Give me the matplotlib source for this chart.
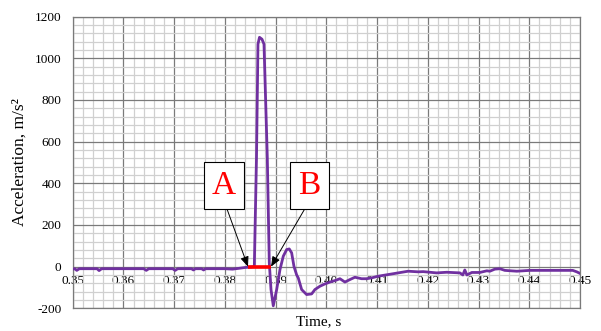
import matplotlib
matplotlib.use("Agg")
import matplotlib.pyplot as plt
from matplotlib.ticker import MultipleLocator

plt.rcParams["axes.unicode_minus"] = False
plt.rcParams["font.family"] = ["Liberation Serif", "DejaVu Serif"]

# acceleration trace (time s, acceleration m/s^2)
time = [0.3500, 0.3504, 0.3508, 0.3513, 0.3548, 0.3552, 0.3557, 0.3640, 0.3645,
        0.3650, 0.3697, 0.3702, 0.3707, 0.3734, 0.3738, 0.3742, 0.3754, 0.3758,
        0.3762, 0.3800, 0.3815, 0.3828, 0.3840, 0.3852, 0.3858,
        0.38623, 0.38652, 0.38682, 0.38731, 0.38771, 0.38836, 0.38875, 0.38909,
        0.38954, 0.39021, 0.39086, 0.39151, 0.39218, 0.39269, 0.39316, 0.39362,
        0.39415, 0.39446, 0.39513, 0.39611, 0.39710, 0.39775, 0.39874, 0.39972,
        0.40071, 0.40169, 0.40268, 0.40366, 0.40465, 0.40563, 0.40695, 0.40794,
        0.40892, 0.41022, 0.41220, 0.41416, 0.41613, 0.41810, 0.41909, 0.42173,
        0.42375, 0.42632, 0.42691, 0.42730, 0.42770, 0.42868, 0.43026, 0.43164,
        0.43223, 0.43322, 0.43420, 0.43519, 0.43755, 0.44011, 0.44858, 0.44937,
        0.44996]
accel = [-12, -10, -18, -10, -10, -19, -10, -10, -18,
         -10, -10, -18, -10, -10, -16, -10, -10, -16,
         -10, -10, -12, -8, -4, -2, 0,
         524, 1068, 1101, 1092, 1068, 524, 19, -110,
         -188, -110, -14, 50, 82, 85, 66, 1,
         -40, -54, -110, -134, -131, -110, -94, -83,
         -74, -67, -58, -74, -62, -51, -58, -58,
         -54, -46, -38, -30, -22, -25, -24, -30,
         -27, -30, -40, -16, -40, -28, -28, -20,
         -22, -12, -10, -18, -22, -18, -18, -25,
         -32]

# interval between points A and B
ab_time = [0.3846, 0.3891]
ab_accel = [0, 0]

labels = ["A", "B"]
label_pos = [(0.37983, 389), (0.39667, 389)]
arrow_tip = [(0.38455, 0), (0.3891, 0)]

x_ticks = [0.35, 0.36, 0.37, 0.38, 0.39, 0.40, 0.41, 0.42, 0.43, 0.44, 0.45]
x_ticklabels = ["0.35", "0.36", "0.37", "0.38", "0.39", "0.40",
                "0.41", "0.42", "0.43", "0.44", "0.45"]
y_ticks = [-200, 0, 200, 400, 600, 800, 1000, 1200]

fig = plt.figure(figsize=(6.01, 3.31), dpi=100)
ax = fig.add_axes([0.121, 0.0686, 0.844, 0.881])

ax.plot(time, accel, color="#7030A0", lw=2.0, solid_joinstyle="round", zorder=3)
ax.plot(ab_time, ab_accel, color="#FF0000", lw=2.6, solid_capstyle="butt", zorder=4)

for lab, pos, tip in zip(labels, label_pos, arrow_tip):
    ax.annotate(lab, xy=tip, xytext=pos, textcoords="data",
                ha="center", va="center", fontsize=24, color="#FF0000",
                bbox=dict(boxstyle="square,pad=0.25", fc="white", ec="black", lw=0.8),
                arrowprops=dict(arrowstyle="-|>,head_length=0.6,head_width=0.25",
                                mutation_scale=10, color="black", lw=0.7,
                                relpos=(0.5, 0), shrinkA=0, shrinkB=0),
                zorder=5)

ax.set_xlim(0.35, 0.45)
ax.set_ylim(-200, 1200)
ax.set_xticks(x_ticks)
ax.set_yticks(y_ticks)
ax.xaxis.set_minor_locator(MultipleLocator(0.002))
ax.yaxis.set_minor_locator(MultipleLocator(40))
ax.grid(which="minor", color="#d0d0d0", lw=0.9)
ax.grid(which="major", color="#7a7a7a", lw=0.9)
ax.set_axisbelow(True)
ax.tick_params(which="both", length=0)
ax.tick_params(axis="x", labelbottom=False)
ax.tick_params(axis="y", labelsize=9.5, pad=8)
for s in ax.spines.values():
    s.set_color("#7a7a7a")
    s.set_linewidth(0.9)

# x tick labels sit just under the zero line, like the original
sec = ax.secondary_xaxis(200 / 1400)
sec.set_xticks(x_ticks, x_ticklabels)
sec.tick_params(length=0, labelsize=9.5, pad=6)
sec.spines["bottom"].set_visible(False)

ax.set_ylabel("Acceleration, m/s²", fontsize=12.5, labelpad=5)
ax.set_xlabel("Time, s", fontsize=11)
ax.xaxis.set_label_coords(0.485, -0.022)

fig.savefig("out.png", dpi=100)
